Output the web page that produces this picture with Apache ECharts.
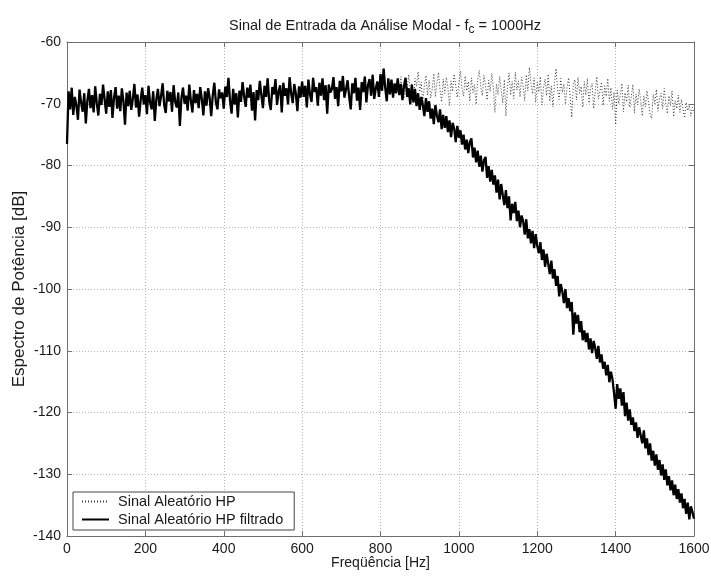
<!DOCTYPE html>
<html>
<head>
<meta charset="utf-8">
<title>Sinal de Entrada da Análise Modal</title>
<script src="https://cdn.jsdelivr.net/npm/echarts@6/dist/echarts.min.js"></script>
<style>
  html, body { margin: 0; padding: 0; background: #ffffff; }
  #chart { width: 711px; height: 576px; }
</style>
</head>
<body>
<div id="chart"></div>
<script>
// Spectral line spacing of the estimated power spectrum (Hz)
const FREQ_STEP = 4;

// Axis ticks
const xTicks = [0, 200, 400, 600, 800, 1000, 1200, 1400, 1600];
const yTicks = [-140, -130, -120, -110, -100, -90, -80, -70, -60];

// Series names
const seriesNames = ['Sinal Aleatório HP', 'Sinal Aleatório HP filtrado'];

// 0 – 840 Hz: pass band, where the filtered and unfiltered spectra coincide (dB)
const passBand = [
  -76.5, -68.0, -70.9, -67.4, -71.8, -68.9, -70.3, -72.6, -67.7, -69.8,
  -71.3, -68.3, -73.2, -69.5, -67.6, -70.7, -68.6, -71.4, -67.2, -69.9,
  -71.9, -68.4, -70.2, -66.9, -69.3, -71.6, -68.0, -70.5, -67.8, -72.3,
  -69.0, -67.3, -70.8, -68.7, -71.2, -67.5, -69.6, -73.4, -68.2, -70.4,
  -67.9, -71.0, -69.2, -66.8, -70.6, -68.5, -72.1, -69.4, -67.4, -70.1,
  -68.6, -71.7, -67.1, -69.8, -70.9, -68.0, -72.8, -69.3, -67.6, -70.4,
  -68.8, -66.7, -70.2, -71.5, -67.9, -69.6, -68.1, -71.3, -67.0, -69.7,
  -70.6, -68.2, -73.6, -69.1, -67.4, -70.0, -68.7, -71.1, -66.9, -69.4,
  -71.4, -67.8, -69.9, -68.4, -70.7, -67.3, -69.2, -71.9, -68.0, -70.3,
  -67.5, -69.0, -72.0, -68.6, -66.6, -69.8, -70.9, -67.7, -69.1, -68.2,
  -70.8, -67.2, -68.9, -65.8, -69.5, -71.6, -67.6, -70.1, -68.3, -72.2,
  -67.9, -69.7, -66.5, -68.8, -70.5, -67.4, -69.0, -66.9, -71.1, -68.1,
  -72.7, -67.8, -69.4, -66.3, -68.6, -70.7, -67.1, -68.9, -65.9, -69.6,
  -71.0, -67.3, -68.5, -66.0, -70.2, -68.0, -67.0, -71.4, -66.6, -68.7,
  -67.5, -70.1, -65.7, -68.3, -69.9, -66.8, -68.4, -71.2, -67.2, -69.0,
  -66.4, -68.9, -67.1, -70.6, -66.1, -68.5, -69.7, -65.8, -68.1, -67.3,
  -70.3, -66.6, -68.7, -65.9, -69.4, -67.0, -71.6, -66.9, -68.2, -67.6,
  -65.7, -69.2, -67.3, -70.4, -66.3, -68.0, -65.5, -69.0, -67.7, -66.2,
  -68.8, -70.9, -66.7, -68.3, -65.8, -69.5, -67.4, -71.0, -66.5, -68.1,
  -65.6, -69.8, -67.0, -66.0, -68.7, -65.3, -69.2, -67.5, -66.4, -68.9,
  -65.2, -67.9, -64.3, -67.4, -69.6, -65.9, -68.5, -66.1, -69.0, -66.7,
  -68.3
];

// 844 – 1600 Hz: unfiltered random signal (dB)
const rawTail = [
  -66.4, -68.7, -65.6, -67.9, -69.2, -66.1, -67.5, -65.3, -68.4, -66.8,
  -69.5, -65.9, -67.2, -64.8, -68.1, -66.5, -70.0, -67.0, -65.4, -68.6,
  -66.2, -69.1, -67.7, -65.1, -68.9, -66.6, -64.9, -67.8, -69.7, -66.0,
  -68.3, -65.7, -67.4, -70.3, -66.3, -68.0, -65.2, -67.1, -69.0, -66.7,
  -64.7, -67.6, -68.8, -65.5, -67.9, -66.4, -69.6, -65.8, -68.2, -66.9,
  -70.1, -66.0, -64.6, -67.3, -68.7, -65.4, -67.0, -69.4, -66.2, -68.0,
  -65.1, -67.5, -71.4, -66.8, -68.5, -65.6, -67.7, -69.9, -66.1, -72.0,
  -67.3, -65.0, -68.6, -66.4, -69.2, -64.9, -67.8, -66.3, -68.9, -65.7,
  -67.0, -69.5, -65.3, -67.9, -64.1, -66.7, -68.4, -65.8, -69.8, -66.5,
  -68.1, -65.6, -70.2, -67.4, -66.0, -68.7, -65.2, -69.6, -67.1, -70.5,
  -66.6, -64.3, -67.8, -69.3, -65.9, -68.2, -66.8, -70.1, -67.3, -65.8,
  -68.9, -72.2, -67.0, -66.1, -69.4, -65.7, -68.3, -67.2, -70.6, -66.4,
  -68.6, -65.9, -69.9, -67.5, -66.7, -70.8, -67.9, -65.6, -69.2, -68.0,
  -66.5, -70.3, -67.1, -68.8, -65.9, -69.6, -67.4, -70.9, -68.1, -73.4,
  -67.8, -70.0, -68.5, -66.7, -71.3, -68.2, -69.7, -67.0, -70.6, -68.8,
  -66.9, -71.5, -68.4, -70.2, -67.6, -69.4, -72.0, -68.7, -70.5, -67.9,
  -69.8, -71.7, -72.4, -68.5, -70.0, -67.7, -71.2, -69.1, -68.3, -70.8,
  -67.5, -69.9, -71.6, -68.7, -70.3, -67.9, -72.1, -69.5, -70.8, -68.6,
  -71.4, -69.3, -70.9, -72.3, -69.8, -71.1, -70.2, -72.0, -70.6, -71.5
];

// 844 – 1600 Hz: low-pass filtered signal, roll-off above the cutoff (dB)
const filteredTail = [
  -65.9, -68.6, -66.8, -69.4, -67.1, -65.8, -68.9, -67.5, -70.1, -66.9,
  -69.8, -67.6, -70.4, -68.3, -71.0, -68.9, -70.2, -72.0, -69.1, -71.3,
  -69.6, -72.4, -70.8, -73.3, -70.2, -71.9, -73.0, -70.9, -74.1, -71.8,
  -73.9, -72.0, -74.6, -72.7, -75.4, -73.1, -74.0, -76.2, -73.6, -75.5,
  -74.3, -76.6, -75.0, -77.4, -75.8, -78.0, -76.2, -75.6, -78.7, -77.1,
  -79.5, -77.6, -80.2, -78.4, -81.0, -79.2, -78.6, -82.0, -80.1, -82.6,
  -80.7, -83.1, -81.6, -84.4, -82.3, -85.5, -83.0, -84.8, -86.4, -84.0,
  -86.9, -85.0, -88.9, -86.2, -87.7, -85.9, -89.0, -87.3, -90.0, -88.1,
  -89.0, -91.2, -88.7, -91.8, -90.3, -92.6, -90.6, -93.4, -91.1, -93.0,
  -94.2, -92.4, -95.3, -93.6, -96.4, -94.3, -95.9, -97.6, -95.4, -98.3,
  -96.8, -99.5, -97.9, -101.2, -99.2, -100.4, -102.3, -100.0, -103.1, -101.5,
  -103.6, -102.1, -107.4, -103.8, -105.6, -104.2, -107.0, -105.2, -108.3, -106.7,
  -108.6, -107.1, -109.8, -108.0, -110.4, -108.4, -109.6, -111.3, -109.2, -111.9,
  -110.6, -112.9, -111.8, -114.0, -112.3, -115.1, -113.4, -114.6, -116.9, -119.4,
  -115.4, -117.8, -116.1, -118.9, -116.7, -120.6, -118.4, -121.3, -119.5, -122.0,
  -120.8, -123.0, -121.6, -124.1, -122.4, -123.7, -125.0, -122.9, -125.8, -124.2,
  -126.9, -125.0, -127.8, -126.2, -128.6, -126.8, -129.3, -127.7, -130.2, -128.4,
  -130.9, -129.2, -131.8, -130.3, -132.6, -131.0, -133.4, -131.7, -134.0, -132.4,
  -134.6, -133.1, -135.5, -134.0, -136.4, -134.6, -137.3, -135.2, -136.1, -137.2
];

const rawValues = passBand.concat(rawTail);
const filteredValues = passBand.concat(filteredTail);

function toPairs(values) {
  return values.map((v, i) => [i * FREQ_STEP, v]);
}

const FONT = 'Liberation Sans, Arial, Helvetica, sans-serif';
const FRAME = '#6e6e6e';
const GRID_LINE = '#b4b4b4';
const TEXT = '#1a1a1a';
const FS = 14;

function xAxisCfg(pos, withLabels) {
  return {
    type: 'value',
    position: pos,
    min: xTicks[0],
    max: xTicks[xTicks.length - 1],
    interval: xTicks[1] - xTicks[0],
    name: withLabels ? 'Freqüência [Hz]' : '',
    nameLocation: 'middle',
    nameGap: 20,
    nameMoveOverlap: false,
    nameTextStyle: { color: TEXT, fontSize: FS, fontFamily: FONT },
    axisLine: { show: true, onZero: false, lineStyle: { color: FRAME, width: 1 } },
    axisTick: { show: true, inside: true, length: 5, lineStyle: { color: FRAME } },
    axisLabel: {
      show: withLabels, color: TEXT, fontSize: FS, fontFamily: FONT, margin: 6,
      showMinLabel: true, showMaxLabel: true,
      formatter: (v) => String(v)
    },
    splitLine: { show: withLabels, lineStyle: { color: GRID_LINE, type: [1, 2], width: 1 } }
  };
}

function yAxisCfg(pos, withLabels) {
  return {
    type: 'value',
    position: pos,
    min: yTicks[0],
    max: yTicks[yTicks.length - 1],
    interval: yTicks[1] - yTicks[0],
    name: withLabels ? 'Espectro de Potência [dB]' : '',
    nameLocation: 'middle',
    nameGap: 39,
    nameRotate: 90,
    nameMoveOverlap: false,
    nameTextStyle: { color: TEXT, fontSize: 17, fontFamily: FONT },
    axisLine: { show: true, onZero: false, lineStyle: { color: FRAME, width: 1 } },
    axisTick: { show: true, inside: true, length: 5, lineStyle: { color: FRAME } },
    axisLabel: {
      show: withLabels, color: TEXT, fontSize: FS, fontFamily: FONT, margin: 6,
      showMinLabel: true, showMaxLabel: true,
      formatter: (v) => String(v)
    },
    splitLine: { show: withLabels, lineStyle: { color: GRID_LINE, type: [1, 2], width: 1 } }
  };
}

const chart = echarts.init(document.getElementById('chart'), null, { renderer: 'canvas' });

chart.setOption({
  animation: false,
  backgroundColor: '#ffffff',
  textStyle: { fontFamily: FONT },
  title: {
    text: '{t|Sinal de Entrada da Análise Modal - f}{s|c}{t| = 1000Hz}',
    left: 380,
    top: 13,
    textAlign: 'center',
    textStyle: {
      fontWeight: 'normal',
      rich: {
        t: { fontSize: 14.5, color: TEXT, fontFamily: FONT, lineHeight: 16, verticalAlign: 'top' },
        s: { fontSize: 12, color: TEXT, fontFamily: FONT, lineHeight: 16, verticalAlign: 'top', padding: [6, 0, 0, 0] }
      }
    }
  },
  grid: { left: 67, right: 17, top: 42, bottom: 40, containLabel: false, outerBoundsMode: 'none' },
  legend: {
    orient: 'vertical',
    left: 73,
    top: 492,
    padding: [2, 11, 3, 8],
    itemGap: 3,
    itemWidth: 27,
    itemHeight: 15,
    backgroundColor: '#ffffff',
    borderColor: '#444444',
    borderWidth: 1,
    borderRadius: 0,
    itemStyle: { opacity: 0, borderWidth: 0 },
    textStyle: { color: TEXT, fontSize: 14.5, fontFamily: FONT, padding: [0, 0, 0, 4] },
    data: seriesNames
  },
  xAxis: [xAxisCfg('bottom', true), xAxisCfg('top', false)],
  yAxis: [yAxisCfg('left', true), yAxisCfg('right', false)],
  series: [
    {
      name: seriesNames[0],
      type: 'line',
      xAxisIndex: 0,
      yAxisIndex: 0,
      data: toPairs(rawValues),
      showSymbol: false,
      symbol: 'none',
      lineStyle: { color: '#3a3a3a', width: 1, type: [1, 2] },
      itemStyle: { color: '#3a3a3a' },
      z: 2
    },
    {
      name: seriesNames[1],
      type: 'line',
      xAxisIndex: 0,
      yAxisIndex: 0,
      data: toPairs(filteredValues),
      showSymbol: false,
      symbol: 'none',
      lineStyle: { color: '#000000', width: 2.3 },
      itemStyle: { color: '#000000' },
      z: 3
    }
  ]
});
</script>
</body>
</html>
